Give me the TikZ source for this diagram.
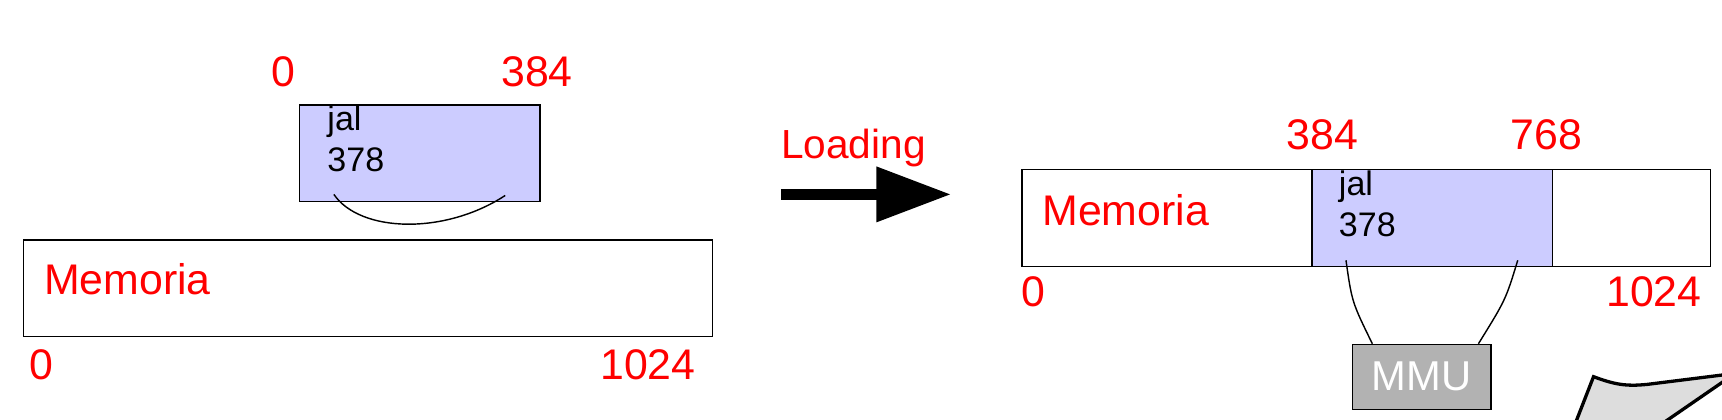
\documentclass[tikz,border=0pt]{standalone}
\usepackage{fontspec}
\setmainfont{Liberation Sans}
\usepackage{xcolor}
\usepackage{tikz}
\usetikzlibrary{arrows.meta}
\definecolor{segblue}{RGB}{204,204,255}
\definecolor{mmugray}{RGB}{178,178,178}
\definecolor{bubblegray}{RGB}{221,221,221}
\tikzset{
  addr/.style={text=red,inner sep=0pt,font=\fontsize{39}{42}\selectfont},
  instr/.style={inner sep=0pt,anchor=base west,font=\fontsize{31}{34}\selectfont},
  membox/.style={draw,line width=1.2,anchor=north west,inner sep=0pt},
  link/.style={line width=1.3},
}
\begin{document}
\begin{tikzpicture}[x=1pt,y=-1pt]
\useasboundingbox (0,0) rectangle (1568,382.4);
% program before loading
\node[membox,fill=segblue,minimum width=219,minimum height=88] (progL) at (272,95) {};
\node[addr] (progL0) at (258,65) {0};
\node[addr] (progLend) at (489,65) {384};
\node[instr] (jalL) at (298,119) {jal};
\node[instr] (numL) at (298,156) {378};
\coordinate (arcL1) at (304,177);
\coordinate (arcL2) at (460,178);
\draw[link] (arcL1) .. controls (328,212) and (405,214) .. (arcL2);
% memory
\node[membox,minimum width=627,minimum height=88] (memL) at (21,218) {};
\node[addr,anchor=west] (memLtxt) at (40,254.5) {Memoria};
\node[addr] (memL0) at (38,332) {0};
\node[addr] (memLend) at (590,332) {1024};
% loading
\node[addr,anchor=base west,font=\fontsize{37}{40}\selectfont] (load) at (711,144) {Loading};
\coordinate (ar1) at (711,177);
\coordinate (ar2) at (866,177);
\draw[line width=10,-{Triangle[length=68pt,width=48pt]}] (ar1) -- (ar2);
% memory after loading
\node[membox,minimum width=627,minimum height=88] (memR) at (930,154) {};
\node[membox,fill=segblue,minimum width=219,minimum height=88] (progR) at (1194,154) {};
\node[addr] (progR0) at (1204,123) {384};
\node[addr] (progRend) at (1408,123) {768};
\node[addr,anchor=west] (memRtxt) at (949,191) {Memoria};
\node[instr] (jalR) at (1219,178) {jal};
\node[instr] (numR) at (1219,215) {378};
\node[addr] (memR0) at (941,266) {0};
\node[addr] (memRend) at (1506,266) {1024};
% mmu
\node[membox,fill=mmugray,minimum width=126,minimum height=59] (mmu) at (1231,313) {};
\node[text=white,font=\fontsize{38}{40}\selectfont,inner sep=0pt] (mmutxt) at (mmu.center) {MMU};
\coordinate (lnk1) at (1225.6,237);
\coordinate (lnk2) at (1382,237);
\draw[link] (lnk1) .. controls (1231,275) .. ([xshift=18.6]mmu.north west);
\draw[link] (lnk2) .. controls (1371,273) .. ([xshift=-12]mmu.north east);
% callout
\draw[line width=3,fill=bubblegray] (1428,402) -- (1451,343) .. controls (1470,350) and (1480,352) .. (1500,350) -- (1580,340) -- (1490,402) -- cycle;
\end{tikzpicture}
\end{document}
